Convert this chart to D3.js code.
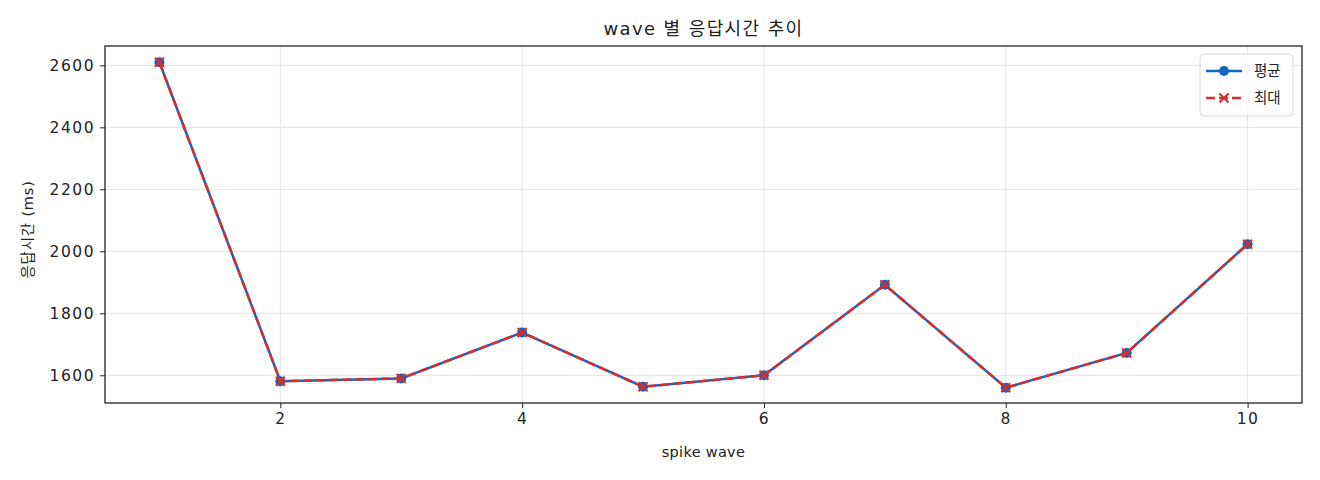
<!DOCTYPE html>
<meta charset="utf-8">
<script src="https://d3js.org/d3.v7.min.js"></script>
<style>
  body { margin: 0; background: #fff; }
  text { font-family: "DejaVu Sans", "Noto Sans CJK KR", sans-serif; fill: #222; }
</style>
<body>
<div id="chart"></div>
<script>
    var waves = [1, 2, 3, 4, 5, 6, 7, 8, 9, 10];
    var avgMs = [2610, 1581, 1590, 1738, 1563, 1600, 1892, 1560, 1672, 2023];
    var maxMs = [2610, 1581, 1590, 1738, 1563, 1600, 1892, 1560, 1672, 2023];
    var xTicks = [2, 4, 6, 8, 10];
    var yTicks = [1600, 1800, 2000, 2200, 2400, 2600];

    var W = 1320, H = 480;
    var margin = {top: 46, right: 18, bottom: 77, left: 105},
        width = W - margin.left - margin.right,
        height = H - margin.top - margin.bottom;

    var blue = "#1565c0", red = "#d32f2f";
    var fontFam = "'DejaVu Sans', 'Noto Sans CJK KR', sans-serif";

    var svg = d3.select("#chart")
      .append("svg")
        .attr("width", W)
        .attr("height", H);

    var g = svg.append("g")
        .attr("transform", "translate(" + margin.left + "," + margin.top + ")");

    var x = d3.scaleLinear().domain([0.55, 10.45]).range([0, width]);
    var y = d3.scaleLinear().domain([1510.6, 2662.4]).range([height, 0]);

    // grid
    g.append("g").selectAll("line").data(xTicks).enter().append("line")
        .attr("x1", d => x(d)).attr("x2", d => x(d))
        .attr("y1", 0).attr("y2", height)
        .attr("stroke", "#e3e3e3").attr("stroke-width", 1);
    g.append("g").selectAll("line").data(yTicks).enter().append("line")
        .attr("y1", d => y(d)).attr("y2", d => y(d))
        .attr("x1", 0).attr("x2", width)
        .attr("stroke", "#e3e3e3").attr("stroke-width", 1);

    // axes
    var xAxis = g.append("g")
        .attr("transform", "translate(0," + height + ")")
        .call(d3.axisBottom(x).tickValues(xTicks).tickSize(5).tickPadding(5).tickFormat(d3.format("d")));
    var yAxis = g.append("g")
        .call(d3.axisLeft(y).tickValues(yTicks).tickSize(5).tickPadding(6).tickFormat(d3.format("d")));
    [xAxis, yAxis].forEach(function(a) {
      a.select(".domain").remove();
      a.selectAll("line").attr("stroke", "#222");
      a.selectAll("text").style("font-size", "15.5px").attr("fill", "#222")
        .style("letter-spacing", "1.5px")
        .style("font-family", fontFam);
    });
    yAxis.selectAll("text").attr("dx", "1px");

    g.append("rect")
        .attr("width", width).attr("height", height)
        .attr("fill", "none").attr("stroke", "#111").attr("stroke-width", 1.2);

    var line = d3.line().x(d => x(d[0])).y(d => y(d[1]));

    var avgPts = waves.map((w, i) => [w, avgMs[i]]);
    var maxPts = waves.map((w, i) => [w, maxMs[i]]);

    // 평균: solid line with round markers
    g.append("path").datum(avgPts)
        .attr("d", line).attr("fill", "none")
        .attr("stroke", blue).attr("stroke-width", 2.5);
    g.append("g").selectAll("circle").data(avgPts).enter().append("circle")
        .attr("cx", d => x(d[0])).attr("cy", d => y(d[1]))
        .attr("r", 5).attr("fill", blue);

    // 최대: dashed line with x markers
    g.append("path").datum(maxPts)
        .attr("d", line).attr("fill", "none")
        .attr("stroke", red).attr("stroke-width", 2.5)
        .attr("stroke-dasharray", "9,4");
    g.append("g").selectAll("path").data(maxPts).enter().append("path")
        .attr("d", "M-4.5,-4.5L4.5,4.5M-4.5,4.5L4.5,-4.5")
        .attr("transform", d => "translate(" + x(d[0]) + "," + y(d[1]) + ")")
        .attr("stroke", red).attr("stroke-width", 2).attr("fill", "none");

    // titles
    svg.append("text")
        .attr("x", margin.left + width / 2).attr("y", 35)
        .attr("text-anchor", "middle")
        .style("font-size", "18px")
        .style("letter-spacing", "1.4px")
        .text("wave 별 응답시간 추이");

    svg.append("text")
        .attr("x", margin.left + width / 2).attr("y", 457)
        .attr("text-anchor", "middle")
        .style("font-size", "14.5px")
        .style("letter-spacing", "0.3px")
        .text("spike wave");

    svg.append("text")
        .attr("transform", "translate(33," + (margin.top + height / 2 + 5) + ") rotate(-90)")
        .attr("text-anchor", "middle")
        .style("font-size", "14.5px")
        .style("letter-spacing", "0.8px")
        .text("응답시간 (ms)");

    // legend
    var lg = svg.append("g").attr("transform", "translate(1200,54)");
    lg.append("rect")
        .attr("width", 93).attr("height", 62).attr("rx", 4)
        .attr("fill", "#fff").attr("fill-opacity", 0.8)
        .attr("stroke", "#d8d8d8");
    lg.append("line").attr("x1", 6).attr("x2", 42).attr("y1", 17).attr("y2", 17)
        .attr("stroke", blue).attr("stroke-width", 2.5);
    lg.append("circle").attr("cx", 24).attr("cy", 17).attr("r", 5).attr("fill", blue);
    lg.append("text").attr("x", 54).attr("y", 22).style("font-size", "14.5px").text("평균");
    lg.append("line").attr("x1", 6).attr("x2", 42).attr("y1", 44).attr("y2", 44)
        .attr("stroke", red).attr("stroke-width", 2.5).attr("stroke-dasharray", "9,4");
    lg.append("path").attr("d", "M-4.5,-4.5L4.5,4.5M-4.5,4.5L4.5,-4.5")
        .attr("transform", "translate(24,44)")
        .attr("stroke", red).attr("stroke-width", 2).attr("fill", "none");
    lg.append("text").attr("x", 54).attr("y", 49).style("font-size", "14.5px").text("최대");
</script>
</body>
